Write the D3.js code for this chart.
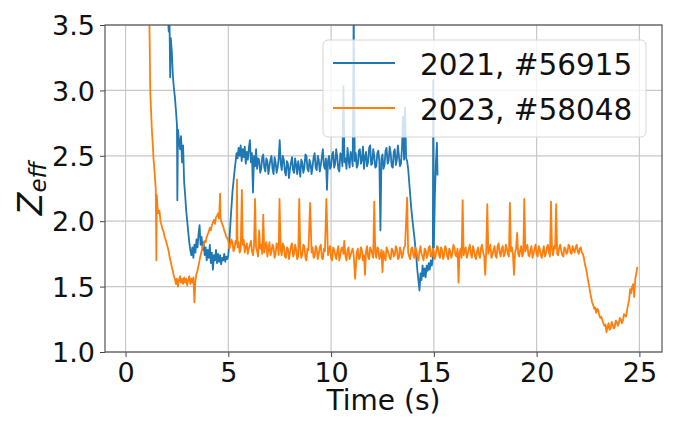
<!DOCTYPE html>
<html>
<head>
<meta charset="utf-8">
<script src="https://cdn.jsdelivr.net/npm/d3@7"></script>
<style>
body { margin: 0; background: #fff; }
text { font-family: "DejaVu Sans", sans-serif; }
</style>
</head>
<body>
<div id="chart"></div>
<script>
// series: [time (s), Zeff]
var series_names = ['2021, #56915', '2023, #58048'];
var series_colors = ['#1f77b4', '#ff7f0e'];

var shot_2021 = [
	[2.05,3.60],[2.10,3.45],[2.14,3.52],[2.17,3.10],[2.20,3.40],[2.25,3.30],[2.30,3.12],[2.35,3.02],
	[2.40,2.95],[2.45,2.85],[2.50,2.74],[2.52,2.16],[2.55,2.70],[2.60,2.62],[2.65,2.55],[2.70,2.65],
	[2.75,2.45],[2.80,2.58],[2.85,2.30],[2.90,2.20],[2.95,2.08],[3.00,2.00],[3.05,1.92],[3.10,1.84],
	[3.15,1.78],[3.20,1.74],[3.25,1.80],[3.30,1.72],[3.35,1.82],[3.40,1.76],[3.45,1.86],[3.50,1.80],
	[3.55,1.90],[3.60,1.97],[3.65,1.82],[3.70,1.88],[3.75,1.78],[3.80,1.84],[3.85,1.74],[3.90,1.80],
	[3.95,1.70],[4.00,1.78],[4.05,1.72],[4.10,1.82],[4.15,1.68],[4.20,1.76],[4.25,1.63],[4.30,1.74],
	[4.35,1.70],[4.40,1.78],[4.45,1.68],[4.50,1.75],[4.55,1.69],[4.60,1.74],[4.65,1.67],[4.70,1.72],
	[4.75,1.70],[4.80,1.75],[4.85,1.69],[4.90,1.73],[4.95,1.71],[5.00,1.74],[5.05,1.85],[5.10,1.98],
	[5.15,2.10],[5.20,2.22],[5.25,2.30],[5.30,2.38],[5.35,2.45],[5.40,2.52],[5.45,2.48],[5.50,2.56],
	[5.55,2.50],[5.60,2.58],[5.65,2.46],[5.70,2.55],[5.75,2.49],[5.80,2.57],[5.85,2.44],[5.90,2.53],
	[5.95,2.47],[6.00,2.56],[6.05,2.62],[6.10,2.45],[6.15,2.52],[6.20,2.22],[6.25,2.50],[6.30,2.42],
	[6.35,2.55],[6.40,2.40],[6.45,2.48],[6.50,2.47],[6.55,2.37],[6.60,2.40],[6.65,2.49],[6.70,2.51],
	[6.75,2.41],[6.80,2.38],[6.85,2.48],[6.90,2.46],[6.95,2.36],[7.00,2.42],[7.05,2.47],[7.10,2.50],
	[7.15,2.40],[7.20,2.36],[7.25,2.49],[7.30,2.45],[7.35,2.37],[7.40,2.41],[7.45,2.48],[7.50,2.62],
	[7.55,2.44],[7.60,2.39],[7.65,2.50],[7.70,2.47],[7.75,2.38],[7.80,2.35],[7.85,2.46],[7.90,2.44],
	[7.95,2.33],[8.00,2.40],[8.05,2.45],[8.10,2.49],[8.15,2.39],[8.20,2.37],[8.25,2.48],[8.30,2.43],
	[8.35,2.36],[8.40,2.46],[8.45,2.41],[8.50,2.34],[8.55,2.47],[8.60,2.45],[8.65,2.37],[8.70,2.41],
	[8.75,2.51],[8.80,2.50],[8.85,2.40],[8.90,2.38],[8.95,2.47],[9.00,2.44],[9.05,2.36],[9.10,2.42],
	[9.15,2.49],[9.20,2.52],[9.25,2.41],[9.30,2.39],[9.35,2.50],[9.40,2.47],[9.45,2.38],[9.50,2.43],
	[9.55,2.49],[9.60,2.55],[9.65,2.42],[9.70,2.40],[9.75,2.48],[9.80,2.24],[9.85,2.46],[9.90,2.50],
	[9.95,2.40],[10.00,2.42],[10.05,2.51],[10.10,2.53],[10.15,2.41],[10.20,2.44],[10.25,2.55],[10.30,2.49],
	[10.35,2.40],[10.40,2.38],[10.45,2.52],[10.50,2.51],[10.55,2.42],[10.60,3.03],[10.65,2.45],[10.70,2.48],
	[10.75,2.40],[10.80,2.56],[10.85,2.47],[10.90,2.41],[10.95,2.53],[11.00,2.50],[11.05,2.42],[11.10,3.60],
	[11.15,2.46],[11.20,2.52],[11.25,2.41],[11.30,2.43],[11.35,2.54],[11.40,2.55],[11.45,2.44],[11.50,2.47],
	[11.55,2.57],[11.60,2.40],[11.65,2.49],[11.70,2.53],[11.75,2.42],[11.80,2.45],[11.85,2.56],[11.90,2.58],
	[11.95,2.43],[12.00,2.44],[12.05,2.55],[12.10,2.50],[12.15,2.41],[12.20,2.42],[12.25,2.52],[12.30,2.54],
	[12.35,2.45],[12.40,1.93],[12.45,2.48],[12.50,2.51],[12.55,2.40],[12.60,2.43],[12.65,2.54],[12.70,2.56],
	[12.75,2.44],[12.80,2.46],[12.85,2.57],[12.90,2.52],[12.95,2.42],[13.00,2.41],[13.05,2.53],[13.10,2.55],
	[13.15,2.43],[13.20,2.47],[13.25,2.58],[13.30,2.50],[13.35,2.42],[13.40,2.44],[13.45,2.56],[13.50,2.80],
	[13.55,2.47],[13.60,2.87],[13.65,2.48],[13.70,2.46],[13.75,2.40],[13.80,2.30],[13.85,2.20],[13.90,2.10],
	[13.95,2.02],[14.00,1.95],[14.05,1.88],[14.10,1.80],[14.15,1.72],[14.20,1.62],[14.25,1.55],[14.30,1.47],
	[14.35,1.60],[14.40,1.55],[14.45,1.66],[14.50,1.58],[14.55,1.64],[14.60,1.57],[14.65,1.66],[14.70,1.62],
	[14.75,1.68],[14.80,1.63],[14.85,1.70],[14.90,1.66],[14.95,1.72],[14.97,3.08],[15.00,1.80],[15.05,2.20],
	[15.10,2.45],[15.15,2.60],[15.18,2.35]
];

var shot_2023 = [
	[1.15,3.60],[1.18,3.30],[1.20,3.00],[1.24,2.85],[1.28,2.70],[1.32,2.60],[1.36,2.48],[1.40,2.40],
	[1.44,2.31],[1.47,2.25],[1.50,1.70],[1.52,2.20],[1.56,2.10],[1.60,2.06],[1.65,2.08],[1.70,2.00],
	[1.75,1.97],[1.80,1.94],[1.85,1.92],[1.90,1.88],[1.95,1.86],[2.00,1.83],[2.05,1.80],[2.10,1.77],
	[2.15,1.72],[2.20,1.69],[2.25,1.65],[2.30,1.62],[2.35,1.58],[2.40,1.56],[2.45,1.52],[2.50,1.56],
	[2.55,1.50],[2.60,1.55],[2.65,1.58],[2.70,1.53],[2.75,1.56],[2.80,1.52],[2.85,1.57],[2.90,1.53],
	[2.95,1.56],[3.00,1.51],[3.05,1.55],[3.10,1.58],[3.15,1.52],[3.20,1.56],[3.25,1.53],[3.30,1.57],
	[3.35,1.38],[3.40,1.55],[3.45,1.60],[3.50,1.62],[3.55,1.66],[3.60,1.70],[3.65,1.74],[3.70,1.77],
	[3.75,1.80],[3.80,1.82],[3.85,1.85],[3.90,1.84],[3.95,1.88],[4.00,1.90],[4.05,1.92],[4.10,1.95],
	[4.15,1.93],[4.20,1.97],[4.25,1.99],[4.30,2.01],[4.35,1.98],[4.40,2.03],[4.45,2.04],[4.50,2.06],
	[4.55,2.02],[4.60,2.21],[4.62,2.03],[4.65,2.00],[4.70,1.98],[4.75,1.96],[4.80,1.93],[4.85,1.91],
	[4.90,1.88],[4.95,1.87],[5.00,1.85],[5.05,1.79],[5.10,1.82],[5.15,1.86],[5.20,1.84],[5.25,1.77],
	[5.30,1.79],[5.35,1.85],[5.40,1.83],[5.42,2.32],[5.45,1.80],[5.50,1.84],[5.55,1.76],[5.60,1.78],
	[5.66,2.24],[5.70,1.82],[5.75,1.86],[5.80,1.76],[5.85,1.80],[5.90,1.83],[5.95,1.75],[6.00,1.79],
	[6.05,1.82],[6.10,1.85],[6.15,1.77],[6.20,1.74],[6.25,1.81],[6.30,2.17],[6.35,1.80],[6.40,1.77],
	[6.45,1.73],[6.50,1.93],[6.55,1.79],[6.60,1.82],[6.65,1.75],[6.70,2.05],[6.75,1.76],[6.80,1.81],
	[6.85,1.84],[6.90,1.73],[6.95,1.78],[7.00,1.84],[7.05,1.74],[7.10,1.77],[7.15,1.82],[7.20,1.80],
	[7.25,1.72],[7.30,1.75],[7.35,1.83],[7.40,1.82],[7.45,1.74],[7.49,2.17],[7.55,1.78],[7.60,1.74],
	[7.65,1.83],[7.70,1.81],[7.75,1.73],[7.80,1.72],[7.85,1.80],[7.90,1.79],[7.95,1.71],[8.00,1.76],
	[8.05,1.81],[8.10,1.83],[8.15,1.73],[8.20,1.75],[8.25,1.82],[8.30,1.78],[8.35,1.71],[8.40,1.73],
	[8.45,2.17],[8.50,1.79],[8.55,1.72],[8.60,1.74],[8.65,1.82],[8.70,1.81],[8.75,1.72],[8.80,1.70],
	[8.85,1.79],[8.90,1.78],[8.98,2.14],[9.05,1.76],[9.10,1.80],[9.15,1.72],[9.20,1.73],[9.25,1.81],
	[9.30,1.79],[9.35,1.71],[9.40,1.75],[9.45,1.80],[9.50,1.82],[9.55,1.72],[9.60,1.71],[9.65,1.79],
	[9.70,1.77],[9.77,2.17],[9.85,1.74],[9.90,1.78],[9.95,1.81],[10.00,1.72],[10.05,1.70],[10.10,1.80],
	[10.15,1.78],[10.20,1.74],[10.25,1.71],[10.30,1.77],[10.35,1.81],[10.40,1.70],[10.45,1.74],[10.50,1.79],
	[10.55,1.80],[10.60,1.75],[10.64,1.85],[10.70,1.73],[10.75,1.70],[10.80,1.78],[10.85,1.80],[10.90,1.71],
	[10.95,1.74],[11.00,1.77],[11.05,1.79],[11.10,1.74],[11.17,1.56],[11.25,1.76],[11.30,1.79],[11.35,1.71],
	[11.40,1.72],[11.45,1.80],[11.50,1.78],[11.55,1.70],[11.60,1.74],[11.65,1.59],[11.70,1.77],[11.75,1.81],
	[11.80,1.73],[11.85,1.71],[11.90,1.80],[11.95,1.78],[12.00,1.75],[12.05,1.72],[12.10,2.15],[12.15,1.76],
	[12.20,1.72],[12.25,1.80],[12.30,1.79],[12.35,1.71],[12.40,1.74],[12.45,1.78],[12.50,1.61],[12.55,1.77],
	[12.60,1.73],[12.65,1.70],[12.70,1.80],[12.75,1.78],[12.80,1.75],[12.85,1.72],[12.90,1.71],[12.95,1.79],
	[13.00,1.78],[13.05,1.73],[13.10,1.74],[13.15,1.81],[13.20,1.79],[13.25,1.71],[13.30,1.72],[13.35,1.80],
	[13.40,1.77],[13.45,1.72],[13.50,1.75],[13.55,1.80],[13.60,1.81],[13.70,2.18],[13.75,1.76],[13.80,1.73],
	[13.85,1.71],[13.90,1.79],[13.95,1.80],[14.00,1.74],[14.05,1.72],[14.10,1.80],[14.15,1.78],[14.20,1.72],
	[14.25,1.70],[14.30,1.77],[14.35,1.81],[14.40,1.75],[14.45,1.73],[14.50,1.70],[14.55,1.79],[14.60,1.78],
	[14.65,1.72],[14.70,1.74],[14.75,1.80],[14.80,1.81],[14.85,1.73],[14.90,1.73],[14.95,1.79],[15.00,1.77],
	[15.05,1.71],[15.10,1.75],[15.15,1.81],[15.20,1.80],[15.25,1.74],[15.30,1.72],[15.35,1.80],[15.40,1.78],
	[15.45,1.71],[15.50,1.74],[15.55,1.81],[15.60,1.79],[15.65,1.73],[15.70,1.71],[15.75,1.79],[15.80,1.77],
	[15.85,1.72],[15.90,1.75],[15.95,1.82],[16.00,1.80],[16.05,1.74],[16.10,1.73],[16.15,1.79],[16.20,1.53],
	[16.25,1.76],[16.30,1.79],[16.35,1.72],[16.40,2.16],[16.45,1.74],[16.50,1.78],[16.55,1.80],[16.60,1.72],
	[16.65,1.75],[16.70,1.79],[16.75,1.82],[16.80,1.75],[16.85,1.72],[16.90,1.81],[16.95,1.78],[17.00,1.73],
	[17.05,1.71],[17.10,1.77],[17.15,1.80],[17.20,1.74],[17.25,1.72],[17.30,1.80],[17.35,1.82],[17.40,1.76],
	[17.45,1.73],[17.50,1.59],[17.55,1.78],[17.60,2.13],[17.65,1.75],[17.70,1.79],[17.75,1.82],[17.80,1.72],
	[17.85,1.74],[17.90,1.78],[17.95,1.81],[18.00,1.74],[18.05,1.72],[18.10,1.81],[18.15,1.83],[18.20,1.76],
	[18.25,1.73],[18.30,1.79],[18.35,1.81],[18.40,1.73],[18.45,1.75],[18.50,1.82],[18.55,1.79],[18.60,1.75],
	[18.65,1.73],[18.70,2.14],[18.75,1.77],[18.80,1.80],[18.85,1.74],[18.90,1.59],[18.95,1.76],[19.00,1.79],
	[19.05,1.91],[19.10,1.75],[19.15,1.73],[19.20,1.78],[19.25,1.81],[19.30,1.73],[19.35,1.75],[19.40,2.17],
	[19.45,1.77],[19.50,1.80],[19.55,1.82],[19.60,1.74],[19.65,1.73],[19.70,1.78],[19.75,1.81],[19.80,1.72],
	[19.85,1.75],[19.90,1.79],[19.95,1.82],[20.00,1.75],[20.05,1.73],[20.10,1.81],[20.15,1.79],[20.20,1.74],
	[20.25,1.72],[20.30,1.77],[20.35,1.81],[20.40,1.73],[20.45,1.75],[20.50,1.80],[20.55,1.82],[20.60,1.76],
	[20.65,1.73],[20.70,2.15],[20.75,1.78],[20.80,1.74],[20.85,1.81],[20.90,1.79],[20.95,2.13],[21.00,1.75],
	[21.05,1.74],[21.10,1.80],[21.15,1.82],[21.20,1.77],[21.25,1.74],[21.30,1.73],[21.35,1.80],[21.40,1.79],
	[21.45,1.75],[21.50,1.76],[21.55,1.82],[21.60,1.81],[21.65,1.76],[21.70,1.75],[21.75,1.81],[21.80,1.78],
	[21.85,1.76],[21.90,1.80],[21.95,1.82],[22.00,1.77],[22.05,1.75],[22.10,1.79],[22.15,1.80],[22.20,1.76],
	[22.25,1.75],[22.30,1.72],[22.35,1.67],[22.40,1.64],[22.45,1.60],[22.50,1.55],[22.55,1.51],[22.60,1.46],
	[22.65,1.42],[22.70,1.38],[22.75,1.36],[22.80,1.33],[22.85,1.34],[22.90,1.30],[22.95,1.33],[23.00,1.32],
	[23.05,1.28],[23.10,1.26],[23.15,1.27],[23.20,1.24],[23.25,1.22],[23.30,1.20],[23.35,1.21],[23.40,1.15],
	[23.45,1.19],[23.50,1.22],[23.55,1.17],[23.60,1.18],[23.65,1.23],[23.70,1.21],[23.75,1.18],[23.80,1.19],
	[23.85,1.24],[23.90,1.23],[23.95,1.20],[24.00,1.22],[24.05,1.26],[24.10,1.25],[24.15,1.22],[24.20,1.24],
	[24.25,1.29],[24.30,1.28],[24.35,1.27],[24.40,1.32],[24.45,1.36],[24.50,1.40],[24.55,1.48],[24.60,1.45],
	[24.65,1.50],[24.70,1.52],[24.75,1.42],[24.80,1.56],[24.85,1.60],[24.90,1.65]
];

var x_ticks = [0, 5, 10, 15, 20, 25];
var y_ticks = [1.0, 1.5, 2.0, 2.5, 3.0, 3.5];


// Create SVG Element
var chart_width   =   673;
var chart_height  =   421;
var plot = { left: 105, right: 662, top: 25, bottom: 352 };

var svg = d3.select( '#chart' )
	.append( 'svg' )
	.attr( 'width', chart_width )
	.attr( 'height', chart_height );

// scales
var x_scale = d3.scaleLinear()
	.domain([ -1.0, 26.1 ])
	.range([ plot.left, plot.right ]);

var y_scale = d3.scaleLinear()
	.domain([ 1.0, 3.5 ])
	.range([ plot.bottom, plot.top ]);

// grid
svg.append('g')
	.selectAll('line.gx')
	.data(x_ticks)
	.enter()
	.append('line')
	.attr('x1', function(d){ return x_scale(d); })
	.attr('x2', function(d){ return x_scale(d); })
	.attr('y1', plot.top)
	.attr('y2', plot.bottom)
	.attr('stroke', '#c8c8c8')
	.attr('stroke-width', 1.2);

svg.append('g')
	.selectAll('line.gy')
	.data(y_ticks)
	.enter()
	.append('line')
	.attr('y1', function(d){ return y_scale(d); })
	.attr('y2', function(d){ return y_scale(d); })
	.attr('x1', plot.left)
	.attr('x2', plot.right)
	.attr('stroke', '#c8c8c8')
	.attr('stroke-width', 1.2);

// clip
svg.append('clipPath')
	.attr('id', 'clip')
	.append('rect')
	.attr('x', plot.left)
	.attr('y', plot.top)
	.attr('width', plot.right - plot.left)
	.attr('height', plot.bottom - plot.top);

var line = d3.line()
	.x(function(d){ return x_scale(d[0]); })
	.y(function(d){ return y_scale(d[1]); });

var all_series = [shot_2021, shot_2023];

svg.append('g')
	.attr('clip-path', 'url(#clip)')
	.selectAll('path')
	.data(all_series)
	.enter()
	.append('path')
	.attr('d', line)
	.attr('fill', 'none')
	.attr('stroke', function(d, i){ return series_colors[i]; })
	.attr('stroke-width', 1.8)
	.attr('stroke-linejoin', 'round');

// axes
var x_axis = d3.axisBottom(x_scale)
	.tickValues(x_ticks)
	.tickFormat(d3.format('d'))
	.tickSize(5)
	.tickPadding(6);

var y_axis = d3.axisLeft(y_scale)
	.tickValues(y_ticks)
	.tickFormat(d3.format('.1f'))
	.tickSize(5)
	.tickPadding(5);

var gx = svg.append('g')
	.attr('transform', 'translate(0,' + plot.bottom + ')')
	.call(x_axis);

var gy = svg.append('g')
	.attr('transform', 'translate(' + plot.left + ',0)')
	.call(y_axis);

[gx, gy].forEach(function(g){
	g.select('.domain').remove();
	g.selectAll('line').attr('stroke', '#444').attr('stroke-width', 1);
	g.selectAll('text')
		.attr('fill', '#111')
		.style('font-family', '"DejaVu Sans", sans-serif')
		.style('font-size', '27px');
});
gx.selectAll('text').attr('dy', '0.71em');
gy.selectAll('text').attr('dy', '0.36em');

// frame
svg.append('rect')
	.attr('x', plot.left)
	.attr('y', plot.top)
	.attr('width', plot.right - plot.left)
	.attr('height', plot.bottom - plot.top)
	.attr('fill', 'none')
	.attr('stroke', '#555')
	.attr('stroke-width', 1.2);

// axis labels
svg.append('text')
	.text('Time (s)')
	.attr('x', (plot.left + plot.right) / 2)
	.attr('y', 410)
	.attr('text-anchor', 'middle')
	.attr('font-size', 28)
	.attr('fill', '#111');

var ylab = svg.append('text')
	.attr('transform', 'translate(42,' + ((plot.top + plot.bottom) / 2) + ') rotate(-90)')
	.attr('text-anchor', 'middle')
	.attr('fill', '#111')
	.attr('font-style', 'italic');
ylab.append('tspan').text('Z').attr('font-size', 33);
ylab.append('tspan').text('eff').attr('font-size', 23).attr('dy', 4);

// legend
var legend = svg.append('g');
legend.append('rect')
	.attr('x', 323)
	.attr('y', 40)
	.attr('width', 323)
	.attr('height', 97)
	.attr('rx', 5)
	.attr('fill', '#fff')
	.attr('fill-opacity', 0.8)
	.attr('stroke', '#d6d6d6')
	.attr('stroke-width', 1);

var rows = legend.selectAll('g.row')
	.data(series_names)
	.enter()
	.append('g')
	.attr('transform', function(d, i){ return 'translate(0,' + (63 + i * 45) + ')'; });

rows.append('line')
	.attr('x1', 333)
	.attr('x2', 395)
	.attr('stroke', function(d, i){ return series_colors[i]; })
	.attr('stroke-width', 1.8);

rows.append('text')
	.text(function(d){ return d; })
	.attr('x', 420)
	.attr('y', 12)
	.attr('font-size', 29.5)
	.attr('fill', '#111');
</script>
</body>
</html>
